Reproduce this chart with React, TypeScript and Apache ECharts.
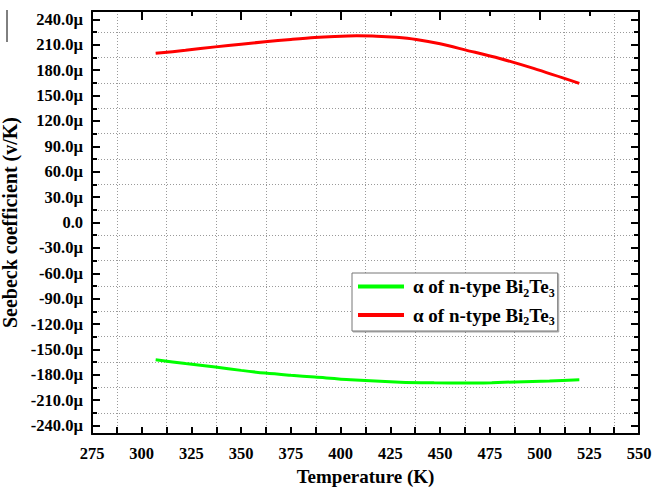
import React, { useEffect, useRef } from "react";
import * as echarts from "echarts";

// Green curve (first legend entry)
const tempGreen = [307, 322, 337, 350, 362, 375, 387, 405, 430, 447, 463, 476, 488, 505, 520];
const seebeckGreen = [-162.2, -166.8, -170.9, -174.8, -178, -180.6, -182.7, -185.9, -188.7, -189.5, -189.8, -189.3, -188.4, -187.3, -186];

// Red curve (second legend entry)
const tempRed = [307, 322, 337, 350, 362, 375, 387, 397, 408, 418, 428, 438, 450, 463, 480, 497, 520];
const seebeckRed = [200, 203.5, 207.6, 210.8, 213.6, 216.4, 218.7, 219.9, 220.6, 220.3, 218.9, 216.3, 211.2, 203.8, 193.9, 182.1, 164.4];

const yLabelValues = [-240, -210, -180, -150, -120, -90, -60, -30, 0, 30, 60, 90, 120, 150, 180, 210, 240];
const yMinorValues = [-225, -195, -165, -135, -105, -75, -45, -15, 15, 45, 75, 105, 135, 165, 195, 225];
const xLabelValues = [275, 300, 325, 350, 375, 400, 425, 450, 475, 500, 525, 550];
const xMinorValues = [287.5, 312.5, 337.5, 362.5, 387.5, 412.5, 437.5, 462.5, 487.5, 512.5, 537.5];
const xTopMajor = [300, 350, 400, 450, 500];
const xTopMinor = [325, 375, 425, 475, 525];

const legendNames = ["green", "red"];
const legendLabel = "{p| }{a|α of n-type Bi}{s|2}{a|Te}{s|3}";

const FONT = "'Liberation Serif', 'Times New Roman', serif";

export default function App() {
  const ref = useRef<HTMLDivElement>(null);
  useEffect(() => {
    if (!ref.current) return;
    const chart = echarts.init(ref.current, undefined, { renderer: "svg" });
    const X_MIN = 275, X_MAX = 550, Y_MIN = -250, Y_MAX = 250;
    const noLine = { show: false, onZero: false };
    const blackLine = { show: true, onZero: false, lineStyle: { color: "#000", width: 2 } };
    const xBase = { type: "value", min: X_MIN, max: X_MAX, gridIndex: 0 };
    const yBase = { type: "value", min: Y_MIN, max: Y_MAX, gridIndex: 0 };
    const dotted = { show: true, lineStyle: { color: "#9a9a9a", width: 1, type: [1, 2] } };
    chart.setOption({
      animation: false,
      backgroundColor: "#fff",
      grid: { left: 92, right: 13, top: 11, bottom: 53, containLabel: false, outerBoundsMode: "none" },
      legend: {
        data: legendNames,
        orient: "vertical",
        left: 352,
        top: 273,
        padding: [4, 3, 4, 6],
        itemGap: 7,
        itemWidth: 46,
        itemHeight: 4,
        icon: "rect",
        backgroundColor: "#fff",
        borderColor: "#777",
        borderWidth: 1,
        shadowColor: "rgba(0,0,0,0.35)",
        shadowOffsetX: 1,
        shadowOffsetY: 1,
        shadowBlur: 1,
        formatter: () => legendLabel,
        textStyle: {
          rich: {
            p: { width: 4, fontSize: 19, lineHeight: 24 },
            a: { fontFamily: FONT, fontWeight: "bold", fontSize: 19, lineHeight: 24, color: "#000" },
            s: { fontFamily: FONT, fontWeight: "bold", fontSize: 12, lineHeight: 14, verticalAlign: "bottom", color: "#000" },
          },
        },
      },
      xAxis: [
        {
          ...xBase,
          position: "bottom",
          axisLine: blackLine,
          axisTick: { show: true, inside: true, length: 7, customValues: xLabelValues, lineStyle: { color: "#000", width: 2 } },
          axisLabel: {
            show: true, customValues: xLabelValues, margin: 11,
            fontFamily: FONT, fontWeight: "bold", fontSize: 16.5, color: "#000",
          },
          splitLine: { show: false },
          name: "Temperature (K)",
          nameLocation: "middle",
          nameGap: 26,
          nameTextStyle: { fontFamily: FONT, fontWeight: "bold", fontSize: 19, color: "#000" },
        },
        {
          ...xBase,
          position: "bottom",
          axisLine: noLine,
          axisTick: { show: true, inside: true, length: 7, customValues: xMinorValues, lineStyle: { color: "#000", width: 2 } },
          axisLabel: { show: false },
          splitLine: dotted,
        },
        {
          ...xBase,
          position: "top",
          axisLine: blackLine,
          axisTick: { show: true, inside: true, length: 9, customValues: xTopMajor, lineStyle: { color: "#000", width: 2 } },
          axisLabel: { show: false },
          splitLine: { show: false },
        },
        {
          ...xBase,
          position: "top",
          axisLine: noLine,
          axisTick: { show: true, inside: true, length: 5, customValues: xTopMinor, lineStyle: { color: "#000", width: 2 } },
          axisLabel: { show: false },
          splitLine: { show: false },
        },
      ],
      yAxis: [
        {
          ...yBase,
          position: "left",
          axisLine: blackLine,
          axisTick: { show: true, inside: true, length: 8, customValues: yLabelValues, lineStyle: { color: "#000", width: 2 } },
          axisLabel: {
            show: true, customValues: yLabelValues, margin: 9,
            fontFamily: FONT, fontWeight: "bold", fontSize: 16.5, color: "#000",
            formatter: (v: number) => (v === 0 ? "0.0" : v.toFixed(1) + "µ"),
          },
          splitLine: { show: false },
          name: "Seebeck coefficient (v/K)",
          nameLocation: "middle",
          nameGap: 70,
          nameTextStyle: { fontFamily: FONT, fontWeight: "bold", fontSize: 20, color: "#000" },
        },
        {
          ...yBase,
          position: "left",
          axisLine: noLine,
          axisTick: { show: true, inside: true, length: 5, customValues: yMinorValues, lineStyle: { color: "#000", width: 2 } },
          axisLabel: { show: false },
          splitLine: dotted,
        },
        {
          ...yBase,
          position: "right",
          axisLine: blackLine,
          axisTick: { show: true, inside: true, length: 8, customValues: yLabelValues, lineStyle: { color: "#000", width: 2 } },
          axisLabel: { show: false },
          splitLine: { show: false },
        },
        {
          ...yBase,
          position: "right",
          axisLine: noLine,
          axisTick: { show: true, inside: true, length: 5, customValues: yMinorValues, lineStyle: { color: "#000", width: 2 } },
          axisLabel: { show: false },
          splitLine: { show: false },
        },
      ],
      graphic: [
        { type: "line", shape: { x1: 7, y1: 10, x2: 7, y2: 42 }, style: { stroke: "#000", lineWidth: 1 } },
      ],
      series: [
        {
          name: legendNames[0],
          type: "line",
          xAxisIndex: 0,
          yAxisIndex: 0,
          data: tempGreen.map((t, i) => [t, seebeckGreen[i]]),
          smooth: 0.3,
          showSymbol: false,
          symbol: "none",
          color: "#00ff00",
          lineStyle: { color: "#00ff00", width: 3 },
          z: 3,
        },
        {
          name: legendNames[1],
          type: "line",
          xAxisIndex: 0,
          yAxisIndex: 0,
          data: tempRed.map((t, i) => [t, seebeckRed[i]]),
          smooth: 0.3,
          showSymbol: false,
          symbol: "none",
          color: "#ff0000",
          lineStyle: { color: "#ff0000", width: 3 },
          z: 3,
        },
      ],
    });
    return () => chart.dispose();
  }, []);
  return <div ref={ref} style={{ width: 652, height: 487, position: "fixed", left: 0, top: 0 }} />;
}
